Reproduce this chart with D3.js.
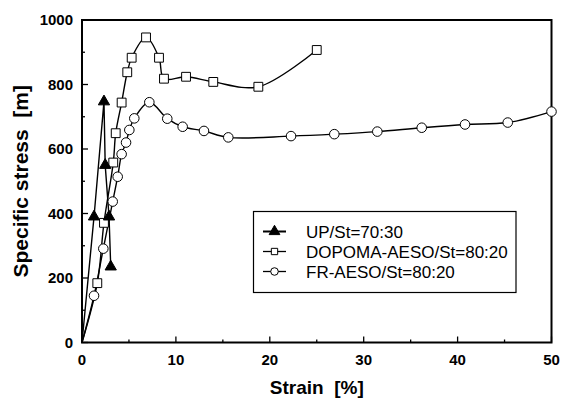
<!DOCTYPE html>
<html><head><meta charset="utf-8">
<script src="https://cdn.jsdelivr.net/npm/d3@7"></script>
<style>body{margin:0;background:#fff}svg{display:block}</style>
</head><body>
<script>
// Data (strain %, specific stress)
const upStrain   = [0, 1.28, 2.34, 2.47, 2.88, 3.06];
const upStress   = [0, 390, 747, 550, 390, 235];
const dopStrain  = [0, 1.63, 2.34, 3.33, 3.59, 4.22, 4.82, 5.29, 6.82, 8.2, 8.73, 11.08, 13.98, 18.78, 25.0];
const dopStress  = [0, 184, 371, 558, 649, 744, 838, 883, 946, 883, 818, 824, 808, 793, 907];
const frStrain   = [0, 1.28, 2.27, 3.27, 3.80, 4.22, 4.69, 5.04, 5.57, 7.17, 9.08, 10.72, 12.99, 15.58, 22.26, 26.87, 31.45, 36.18, 40.79, 45.34, 50.0];
const frStress   = [0, 145, 291, 437, 514, 584, 620, 659, 695, 745, 694, 669, 656, 636, 640, 646, 654, 666, 676, 682, 716];
const xTicks = [0, 10, 20, 30, 40, 50];
const yTicks = [0, 200, 400, 600, 800, 1000];
const legendLabels = ["UP/St=70:30", "DOPOMA-AESO/St=80:20", "FR-AESO/St=80:20"];

const W = 562, H = 402;
const m = {l: 82, r: 10.5, t: 20, b: 59.5};
const svg = d3.select("body").append("svg").attr("width", W).attr("height", H);
const x = d3.scaleLinear().domain([0, 50]).range([m.l, W - m.r]);
const y = d3.scaleLinear().domain([0, 1000]).range([H - m.b, m.t]);
const font = "'Liberation Sans', Arial, sans-serif";

// ticks (inward)
const gx = svg.append("g").attr("transform", `translate(0,${H - m.b})`);
x.ticks(10).forEach(v => {
  gx.append("line").attr("x1", x(v)).attr("x2", x(v)).attr("y1", 0).attr("y2", v % 10 === 0 ? -6 : -3).attr("stroke", "#000").attr("stroke-width", 1.3);
});
xTicks.forEach(v => {
  gx.append("text").attr("x", x(v)).attr("y", 22.5).attr("text-anchor", "middle").attr("fill", "#000")
    .attr("font-family", font).attr("font-weight", "bold").attr("font-size", 15).text(v);
});
const gy = svg.append("g").attr("transform", `translate(${m.l},0)`);
y.ticks(10).forEach(v => {
  gy.append("line").attr("x1", 0).attr("x2", v % 200 === 0 ? 6 : 3).attr("y1", y(v)).attr("y2", y(v)).attr("stroke", "#000").attr("stroke-width", 1.3);
});
yTicks.forEach(v => {
  gy.append("text").attr("x", -9).attr("y", y(v)).attr("dy", "0.36em").attr("text-anchor", "end").attr("fill", "#000")
    .attr("font-family", font).attr("font-weight", "bold").attr("font-size", 15).text(v);
});

// frame
svg.append("rect").attr("x", m.l).attr("y", m.t).attr("width", W - m.r - m.l).attr("height", H - m.b - m.t)
  .attr("fill", "none").attr("stroke", "#000").attr("stroke-width", 2);

// axis titles
svg.append("text").attr("x", (m.l + W - m.r) / 2).attr("y", 394).attr("text-anchor", "middle")
  .attr("font-family", font).attr("font-weight", "bold").attr("font-size", 19).attr("xml:space", "preserve").text("Strain  [%]");
svg.append("text").attr("transform", `translate(28,${(m.t + H - m.b) / 2}) rotate(-90)`).attr("text-anchor", "middle")
  .attr("font-family", font).attr("font-weight", "bold").attr("font-size", 21).attr("xml:space", "preserve").text("Specific stress  [m]");

const lineStraight = d3.line().x(d => x(d[0])).y(d => y(d[1]));
const lineSmooth = d3.line().x(d => x(d[0])).y(d => y(d[1])).curve(d3.curveCatmullRom.alpha(0.5));

const up = upStrain.map((v, i) => [v, upStress[i]]);
const dop = dopStrain.map((v, i) => [v, dopStress[i]]);
const fr = frStrain.map((v, i) => [v, frStress[i]]);

svg.append("path").attr("d", lineSmooth(fr)).attr("fill", "none").attr("stroke", "#000").attr("stroke-width", 1.4);
svg.append("path").attr("d", lineSmooth(dop)).attr("fill", "none").attr("stroke", "#000").attr("stroke-width", 1.4);
svg.append("path").attr("d", lineStraight(up)).attr("fill", "none").attr("stroke", "#000").attr("stroke-width", 1.4);

const sym = {
  tri: d3.symbol().type(d3.symbolTriangle).size(55),
  sq: d3.symbol().type(d3.symbolSquare).size(78),
  circ: d3.symbol().type(d3.symbolCircle).size(72)
};
function markers(data, s, fill) {
  svg.append("g").selectAll("path").data(data.filter(d => d[0] > 0)).join("path")
    .attr("transform", d => `translate(${x(d[0])},${y(d[1])})`)
    .attr("d", s).attr("fill", fill).attr("stroke", "#000").attr("stroke-width", 1);
}
markers(fr, sym.circ, "#fff");
markers(dop, sym.sq, "#fff");
markers(up, sym.tri, "#000");

// legend
const lg = svg.append("g");
lg.append("rect").attr("x", 253.5).attr("y", 211.5).attr("width", 262.5).attr("height", 81)
  .attr("fill", "#fff").attr("stroke", "#000").attr("stroke-width", 1.2);
const legSyms = [
  {s: d3.symbol().type(d3.symbolTriangle).size(50), fill: "#000", w: 2},
  {s: d3.symbol().type(d3.symbolSquare).size(40), fill: "#fff", w: 1.3},
  {s: d3.symbol().type(d3.symbolCircle).size(45), fill: "#fff", w: 1.3}
];
legendLabels.forEach((t, i) => {
  const cy = 231.5 + i * 20;
  lg.append("line").attr("x1", 263).attr("x2", 286).attr("y1", cy).attr("y2", cy).attr("stroke", "#000").attr("stroke-width", legSyms[i].w);
  lg.append("path").attr("transform", `translate(274.5,${cy})`).attr("d", legSyms[i].s).attr("fill", legSyms[i].fill).attr("stroke", "#000").attr("stroke-width", 1);
  lg.append("text").attr("x", 306).attr("y", cy).attr("dy", "0.36em").attr("font-family", font).attr("font-size", 17).text(t);
});
</script>
</body></html>
